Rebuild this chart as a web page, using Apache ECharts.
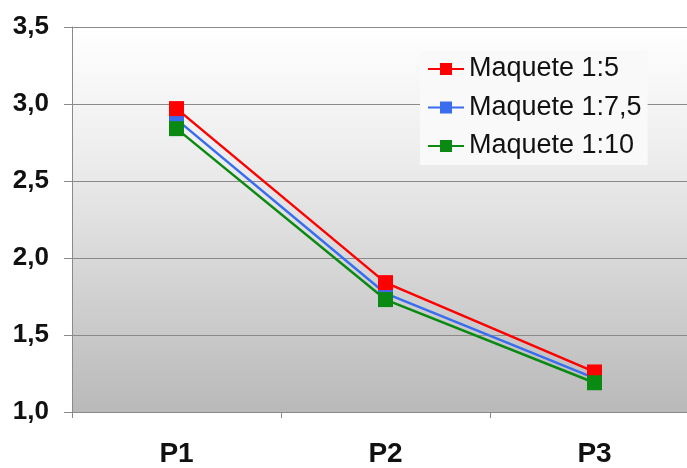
<!DOCTYPE html>
<html>
<head>
<meta charset="utf-8">
<script src="https://cdn.jsdelivr.net/npm/echarts@6/dist/echarts.min.js"></script>
<style>
  html, body { margin: 0; padding: 0; background: #ffffff; }
  #chart { width: 687px; height: 468px; }
</style>
</head>
<body>
<div id="chart"></div>
<script>
// Measurement points and values for each model scale
const categories = ['P1', 'P2', 'P3'];
const maquete15 = [2.97, 1.84, 1.26];
const maquete175 = [2.90, 1.77, 1.22];
const maquete110 = [2.84, 1.73, 1.19];
const yTicks = [1.0, 1.5, 2.0, 2.5, 3.0, 3.5];

const chart = echarts.init(document.getElementById('chart'));

function lineSeries(name, data, color, z) {
  return {
    name: name,
    type: 'line',
    data: data,
    z: z,
    symbol: 'rect',
    symbolSize: 15,
    showAllSymbol: true,
    lineStyle: { color: color, width: 2.5 },
    itemStyle: { color: color },
    emphasis: { disabled: true },
    animation: false
  };
}

chart.setOption({
  animation: false,
  grid: {
    left: 72,
    top: 27,
    right: -12,
    bottom: 56,
    containLabel: false,
    outerBoundsMode: 'none',
    show: true,
    borderWidth: 0,
    backgroundColor: new echarts.graphic.LinearGradient(0, 0, 0, 1, [
      { offset: 0, color: '#ffffff' },
      { offset: 0.35, color: '#ececec' },
      { offset: 1, color: '#b9b9b9' }
    ])
  },
  legend: {
    data: ['Maquete 1:5', 'Maquete 1:7,5', 'Maquete 1:10'],
    orient: 'vertical',
    left: 420,
    top: 50,
    itemGap: 8.5,
    itemWidth: 36,
    itemHeight: 15,
    padding: [4, 6, 4, 7],
    backgroundColor: '#f9f9f9',
    textStyle: {
      fontFamily: 'Liberation Sans, Arial',
      fontSize: 27,
      lineHeight: 30,
      color: '#111'
    }
  },
  xAxis: {
    type: 'category',
    data: categories,
    boundaryGap: true,
    axisLine: { show: true, lineStyle: { color: '#8a8a8a', width: 1 } },
    axisTick: { show: true, length: 6, alignWithLabel: false, lineStyle: { color: '#8a8a8a' } },
    axisLabel: {
      margin: 28,
      fontFamily: 'Liberation Sans, Arial',
      fontWeight: 'bold',
      fontSize: 28,
      color: '#111'
    }
  },
  yAxis: {
    type: 'value',
    min: yTicks[0],
    max: yTicks[yTicks.length - 1],
    interval: 0.5,
    axisLine: { show: true, lineStyle: { color: '#8a8a8a', width: 1 } },
    axisTick: { show: true, length: 8, lineStyle: { color: '#8a8a8a' } },
    splitLine: { show: true, lineStyle: { color: '#8a8a8a', width: 1 } },
    axisLabel: {
      margin: 23,
      fontFamily: 'Liberation Sans, Arial',
      fontWeight: 'bold',
      fontSize: 26,
      color: '#111',
      formatter: v => v.toFixed(1).replace('.', ',')
    }
  },
  series: [
    lineSeries('Maquete 1:5', maquete15, '#ff0000', 3),
    lineSeries('Maquete 1:7,5', maquete175, '#3a6cf0', 2),
    lineSeries('Maquete 1:10', maquete110, '#0a8a12', 4)
  ]
});
</script>
</body>
</html>
